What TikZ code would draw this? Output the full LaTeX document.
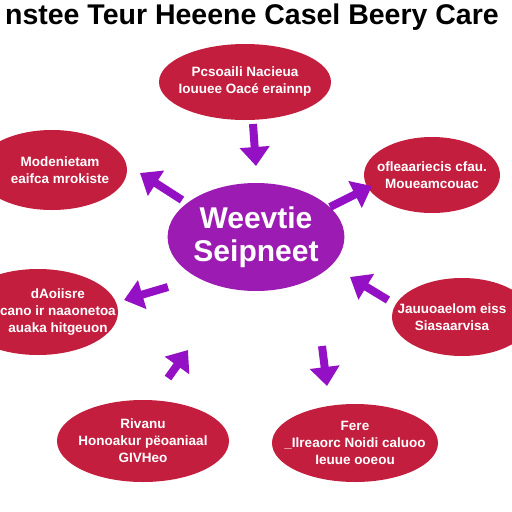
\documentclass[tikz,border=0pt]{standalone}
\usepackage{fontspec}
\setmainfont{Liberation Sans}
\usetikzlibrary{arrows.meta,shapes.geometric}
\definecolor{crim}{HTML}{C41E3F}
\definecolor{violet}{HTML}{9C1BB3}
\definecolor{arrowv}{HTML}{9410C4}
\tikzset{
  redell/.style={ellipse, fill=crim, inner sep=0pt},
  redtxt/.style={text=white, font=\bfseries\fontsize{13.5}{17}\selectfont, align=center, inner sep=0pt},
  bigarrow/.style={draw=arrowv, line width=8pt, -{Triangle[length=19pt,width=29pt]}},
}
\begin{document}
\begin{tikzpicture}[x=1pt,y=-1pt]
\useasboundingbox (0,0) rectangle (512,512);
\fill[white] (0,0) rectangle (512,512);
% title
\node[font=\bfseries\fontsize{28.5}{31}\selectfont, text=black, inner sep=0pt] (title) at (252,17) {nstee Teur Heeene Casel Beery Care};
% ellipses
\node[redell, minimum width=172pt, minimum height=76pt] (top) at (245,82) {};
\node[redtxt] (toptxt) at (top) {Pcsoaili Nacieua\\Iouuee Oacé erainnp};
\node[redell, minimum width=150pt, minimum height=80pt] (ul) at (52,170) {};
\node[redtxt] (ultxt) at (60,170) {Modenietam\\eaifca mrokiste};
\node[redell, minimum width=136pt, minimum height=76pt] (ur) at (432,175) {};
\node[redtxt] (urtxt) at (432,175) {ofleaariecis cfau.\\Moueamcouac};
\node[ellipse, fill=violet, text=white, font=\bfseries\fontsize{30}{33}\selectfont, align=center, minimum width=168pt, minimum height=108pt, inner sep=0pt] (center) at (256,237) {Weevtie\\Seipneet};
\node[redell, minimum width=160pt, minimum height=86pt] (ll) at (38,312) {};
\node[redtxt] (lltxt) at (58,312) {dAoiisre\\cano ir naaonetoa\\auaka hitgeuon};
\node[redell, minimum width=140pt, minimum height=78pt] (lr) at (462,317) {};
\node[redtxt] (lrtxt) at (452,317) {Jauuoaelom eiss\\Siasaarvisa};
\node[redell, minimum width=172pt, minimum height=82pt] (bl) at (143,441) {};
\node[redtxt] (bltxt) at (bl) {Rivanu\\Honoakur pëoaniaal\\GIVHeo};
\node[redell, minimum width=166pt, minimum height=78pt] (br) at (355,443) {};
\node[redtxt] (brtxt) at (br) {Fere\\\_Ilreaorc Noidi caluoo\\Ieuue ooeou};
% arrows
\coordinate (a1s) at (253,124); \coordinate (a1e) at (256,166);
\coordinate (a2s) at (182,200); \coordinate (a2e) at (140,173);
\coordinate (a3s) at (330,207); \coordinate (a3e) at (372,186);
\coordinate (a4s) at (168,287); \coordinate (a4e) at (124,300);
\coordinate (a5s) at (388,300); \coordinate (a5e) at (350,277);
\coordinate (a6s) at (168,378); \coordinate (a6e) at (188,350);
\coordinate (a7s) at (322,346); \coordinate (a7e) at (327,386);
\foreach \i in {1,...,7} \draw[bigarrow] (a\i s) -- (a\i e);
\end{tikzpicture}
\end{document}
